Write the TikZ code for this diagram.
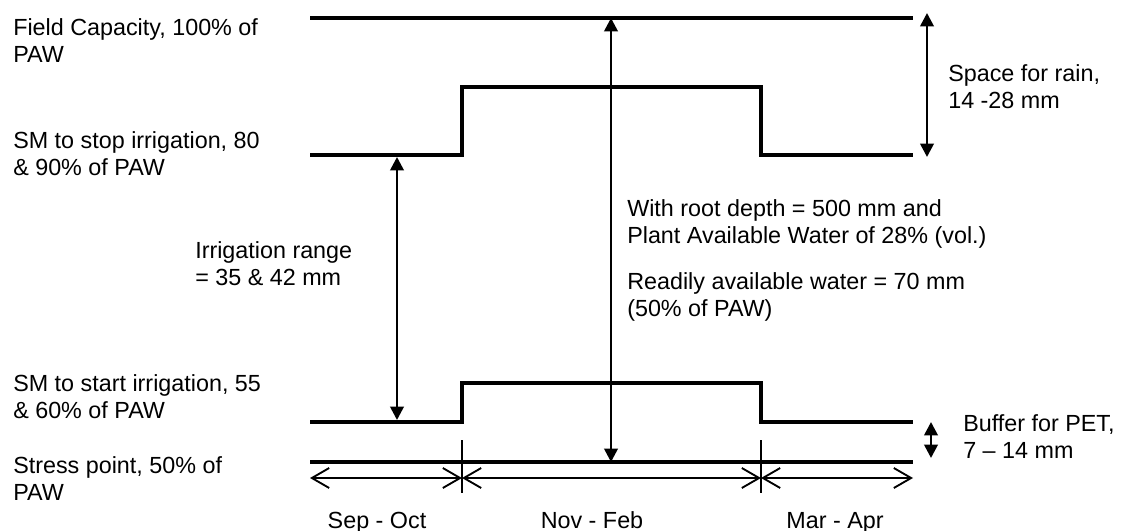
\documentclass[tikz,border=0pt]{standalone}
\usepackage{fontspec}
\setmainfont{Liberation Sans}
\usetikzlibrary{arrows.meta}

\begin{document}
\begin{tikzpicture}[x=0.75pt, y=-0.75pt,
    level/.style={line width=3.5pt},
    span/.style={line width=2pt, {Triangle[width=10pt,length=10pt]}-{Triangle[width=10pt,length=10pt]}},
    season/.style={line width=1.4pt, {Straight Barb[length=13pt,width=15pt]}-{Straight Barb[length=13pt,width=15pt]}},
    tickline/.style={line width=0.8pt},
    lbl/.style={anchor=north west, inner sep=0pt, align=left, font=\fontsize{17.5}{20.5}\selectfont},
    month/.style={anchor=base, inner sep=0pt, font=\fontsize{17.5}{20.5}\selectfont}]
    \path[use as bounding box] (0,0) rectangle (1123,531);

    % moisture levels
    \coordinate (fc1) at (310,18);
    \coordinate (fc2) at (913,18);
    \coordinate (sp1) at (310,155);
    \coordinate (sp2) at (462,155);
    \coordinate (sp3) at (462,87);
    \coordinate (sp4) at (761,87);
    \coordinate (sp5) at (761,155);
    \coordinate (sp6) at (913,155);
    \coordinate (st1) at (310,422);
    \coordinate (st2) at (462,422);
    \coordinate (st3) at (462,383);
    \coordinate (st4) at (761,383);
    \coordinate (st5) at (761,422);
    \coordinate (st6) at (913,422);
    \coordinate (ps1) at (310,462);
    \coordinate (ps2) at (913,462);
    \draw[level] (fc1) -- (fc2);
    \draw[level] (sp1) -- (sp2) -- (sp3) -- (sp4) -- (sp5) -- (sp6);
    \draw[level] (st1) -- (st2) -- (st3) -- (st4) -- (st5) -- (st6);
    \draw[level] (ps1) -- (ps2);

    % seasons
    \coordinate (k1) at (462,440);
    \coordinate (k2) at (462,493);
    \coordinate (k3) at (761,440);
    \coordinate (k4) at (761,493);
    \coordinate (m0) at (310,478);
    \coordinate (m1) at (462,478);
    \coordinate (m2) at (761,478);
    \coordinate (m3) at (913,478);
    \draw[tickline] (k1) -- (k2);
    \draw[tickline] (k3) -- (k4);
    \draw[season] (m0) -- (m1);
    \draw[season] (m1) -- (m2);
    \draw[season] (m2) -- (m3);

    % ranges
    \coordinate (rain1) at (927,13);
    \coordinate (rain2) at (927,157);
    \coordinate (irr1) at (397,157);
    \coordinate (irr2) at (397,420);
    \coordinate (paw1) at (611,18);
    \coordinate (paw2) at (611,462);
    \coordinate (buf1) at (931,422);
    \coordinate (buf2) at (931,458);
    \draw[span] (rain1) -- (rain2);
    \draw[span] (irr1) -- (irr2);
    \draw[span] (paw1) -- (paw2);
    \draw[span] (buf1) -- (buf2);

    % labels
    \node[lbl] (fc) at (13,18) {Field Capacity, 100\% of\\PAW};
    \node[lbl] (stop) at (13,131) {SM to stop irrigation, 80\\\& 90\% of PAW};
    \node[lbl] (range) at (195,241) {Irrigation range\\= 35 \& 42 mm};
    \node[lbl] (start) at (13,374) {SM to start irrigation, 55\\\& 60\% of PAW};
    \node[lbl] (stress) at (13,456) {Stress point, 50\% of\\PAW};
    \node[lbl] (rain) at (948,64) {Space for rain,\\14 -28 mm};
    \node[lbl] (buffer) at (963,414) {Buffer for PET,\\7 – 14 mm};
    \node[lbl] (root) at (627,199) {With root depth = 500 mm and\\Plant Available Water of 28\% (vol.)};
    \node[lbl] (raw) at (627,272) {Readily available water = 70 mm\\(50\% of PAW)};
    \node[month] (sepoct) at (377,528) {Sep - Oct};
    \node[month] (novfeb) at (592,528) {Nov - Feb};
    \node[month] (marapr) at (835,528) {Mar - Apr};
\end{tikzpicture}
\end{document}
